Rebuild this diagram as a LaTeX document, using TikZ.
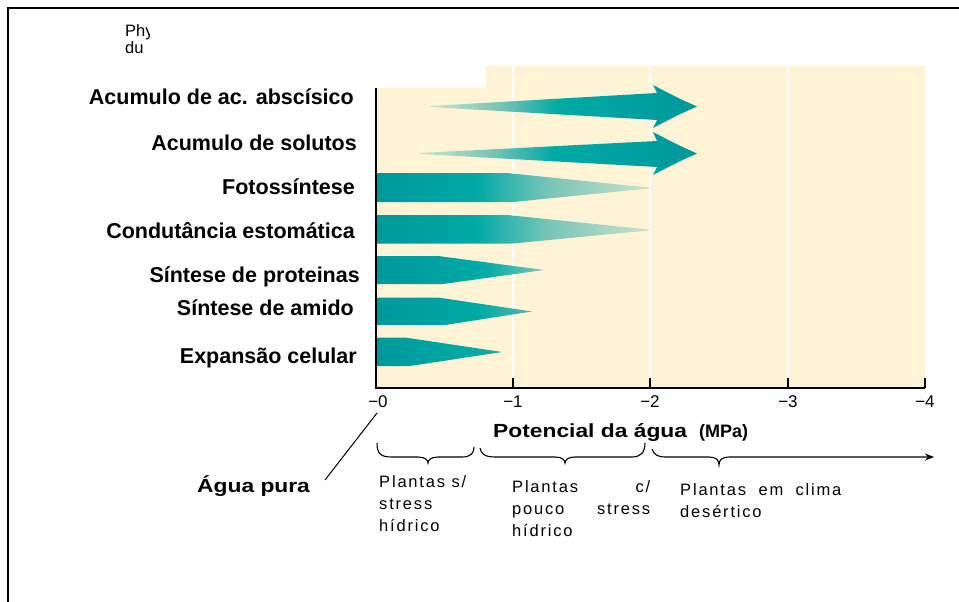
\documentclass[tikz,border=0pt]{standalone}
\usepackage{fontspec}
\setmainfont{Liberation Sans}
\newfontfamily\spacedfont{Liberation Sans}[LetterSpace=11]
\usetikzlibrary{arrows.meta}
\definecolor{cream}{RGB}{255,243,214}
\definecolor{tealD}{RGB}{0,152,155}
\definecolor{tealB}{RGB}{0,170,165}
\definecolor{midT}{RGB}{120,196,184}
\definecolor{fadeC}{RGB}{205,228,204}
\definecolor{tipP}{RGB}{125,198,186}
\definecolor{tipA}{RGB}{85,184,174}
\definecolor{tipE}{RGB}{30,168,160}
\pgfdeclarehorizontalshading{growArr}{100bp}{color(0bp)=(fadeC); color(25bp)=(fadeC); color(38bp)=(midT); color(49bp)=(tealB); color(75bp)=(tealD); color(100bp)=(tealD)}
\pgfdeclarehorizontalshading{dropF}{100bp}{color(0bp)=(tealD); color(25bp)=(tealD); color(43bp)=(tealB); color(56bp)=(midT); color(75bp)=(fadeC); color(100bp)=(fadeC)}
\pgfdeclarehorizontalshading{dropP}{100bp}{color(0bp)=(tealD); color(25bp)=(tealD); color(57bp)=(tealB); color(75bp)=(tipP); color(100bp)=(tipP)}
\pgfdeclarehorizontalshading{dropA}{100bp}{color(0bp)=(tealD); color(25bp)=(tealD); color(58bp)=(tealB); color(75bp)=(tipA); color(100bp)=(tipA)}
\pgfdeclarehorizontalshading{dropE}{100bp}{color(0bp)=(tealD); color(25bp)=(tealD); color(60bp)=(tealB); color(75bp)=(tipE); color(100bp)=(tipE)}
\tikzset{
  lbl/.style={font=\bfseries\fontsize{21.5}{24}\selectfont, anchor=base east, inner sep=0pt},
  ticklbl/.style={font=\fontsize{17}{19}\selectfont, anchor=base, inner sep=0pt},
  smalltxt/.style={font=\spacedfont\fontsize{16.5}{22}\selectfont, anchor=base west, inner sep=0pt},
  axisline/.style={line width=1.6pt, black},
  gridline/.style={line width=1.6pt, white},
  bracepath/.style={line width=1.1pt, black},
  frameline/.style={line width=2pt, black},
}
\begin{document}
\begin{tikzpicture}[x=1pt,y=-1pt]
\useasboundingbox (0,0) rectangle (959,602);
% frame
\draw[frameline] (959,8) -- (8,8) -- (8,602);
% clipped header text
\begin{scope}
  \clip (100,12) rectangle (149.5,62);
  \node[anchor=base west, inner sep=0pt, font=\fontsize{16.5}{17}\selectfont] (phy) at (125,37) {Phy};
  \node[anchor=base west, inner sep=0pt, font=\fontsize{16.5}{17}\selectfont] (du) at (125,54) {du};
\end{scope}
% cream plot area
\fill[cream] (376,88) -- (486,88) -- (486,66) -- (925,66) -- (925,388) -- (376,388) -- cycle;
\foreach \gx in {513,650,788} \draw[gridline] (\gx,66) -- (\gx,388);
% bars
\shade[shading=growArr] (430,106) -- (657,93) -- (653,85) .. controls (678,98) .. (697,106.5) .. controls (678,115) .. (653,128) -- (657,120) -- (430,107) -- cycle;
\shade[shading=growArr] (420,153) -- (657,141) -- (653,132) .. controls (678,145) .. (697,153.5) .. controls (678,162) .. (653,175) -- (657,167) -- (420,154) -- cycle;
\shade[shading=dropF] (377,173) -- (507,173) -- (653,188) -- (513,202) -- (377,202) -- cycle;
\shade[shading=dropF] (377,215) -- (507,215) -- (653,230) -- (513,243.5) -- (377,243.5) -- cycle;
\shade[shading=dropP] (377,256) -- (438,256) -- (544,270) -- (443,284) -- (377,284) -- cycle;
\shade[shading=dropA] (377,297.5) -- (438,297.5) -- (532,311.5) -- (445,325) -- (377,325) -- cycle;
\shade[shading=dropE] (377,337.5) -- (405,337.5) -- (502,352) -- (410,366) -- (377,366) -- cycle;
% axes
\draw[axisline] (376,88) -- (376,388) -- (925,388);
\foreach \gx in {513,650,788,925} \draw[axisline] (\gx,378) -- (\gx,388);
\node[ticklbl] (t0) at (378,407) {−0};
\node[ticklbl] (t1) at (513,407) {−1};
\node[ticklbl] (t2) at (650,407) {−2};
\node[ticklbl] (t3) at (788,407) {−3};
\node[ticklbl] (t4) at (925,407) {−4};
% row labels
\node[lbl] (l1) at (354,104) {Acumulo de ac. abscísico};
\node[lbl] (l2) at (357,150) {Acumulo de solutos};
\node[lbl] (l3) at (355,194) {Fotossíntese};
\node[lbl] (l4) at (355,238) {Condutância estomática};
\node[lbl] (l5) at (360,282) {Síntese de proteinas};
\node[lbl] (l6) at (354,315) {Síntese de amido};
\node[lbl] (l7) at (357,363) {Expansão celular};
% axis title
\node[anchor=base west, inner sep=0pt, font=\bfseries\fontsize{19}{22}\selectfont] (pot) at (493,437) {\scalebox{1.2}[1]{Potencial da água}};
\node[anchor=base west, inner sep=0pt, font=\bfseries\fontsize{18}{22}\selectfont] (mpa) at (699,437) {(MPa)};
% pure water
\node[anchor=base west, inner sep=0pt, font=\bfseries\fontsize{19}{22}\selectfont] (agua) at (197,492) {\scalebox{1.2}[1]{Água pura}};
\coordinate (slantA) at (325,480);
\coordinate (slantB) at (377,413);
\draw[line width=1pt] (slantA) -- (slantB);
% braces
\draw[bracepath] (377,443) .. controls (377,454) and (381,457) .. (392,457) -- (418,457) .. controls (425,457) and (428,460) .. (428,463) .. controls (428,460) and (431,457) .. (438,457) -- (462,457) .. controls (471,457) and (474,453) .. (474,447);
\draw[bracepath] (480,448) .. controls (481,454) and (485,457) .. (495,457) -- (555,457) .. controls (562,457) and (565,460) .. (565,463) .. controls (565,460) and (568,457) .. (575,457) -- (632,457) .. controls (641,457) and (645,452) .. (645,443);
\coordinate (arrEnd) at (934,457);
\draw[bracepath, -{Stealth[length=9pt,width=7pt]}] (652,449) .. controls (654,455) and (658,457) .. (666,457) -- (709,457) .. controls (716,457) and (719,460) .. (719,465) .. controls (719,460) and (722,457) .. (729,457) -- (arrEnd);
% captions
\node[smalltxt] (cap1) at (379,487) {\begin{tabular}[t]{@{}l@{}}Plantas s/\\ stress\\ hídrico\end{tabular}};
\node[smalltxt] (cap2) at (512,492) {\begin{tabular}[t]{@{}p{138pt}@{}}Plantas\hfill c/\\ pouco\hfill stress\\ hídrico\end{tabular}};
\node[smalltxt] (cap3) at (680,495) {\begin{tabular}[t]{@{}l@{}}Plantas\hspace{6pt} em\hspace{6pt} clima\\ desértico\end{tabular}};
\end{tikzpicture}
\end{document}
